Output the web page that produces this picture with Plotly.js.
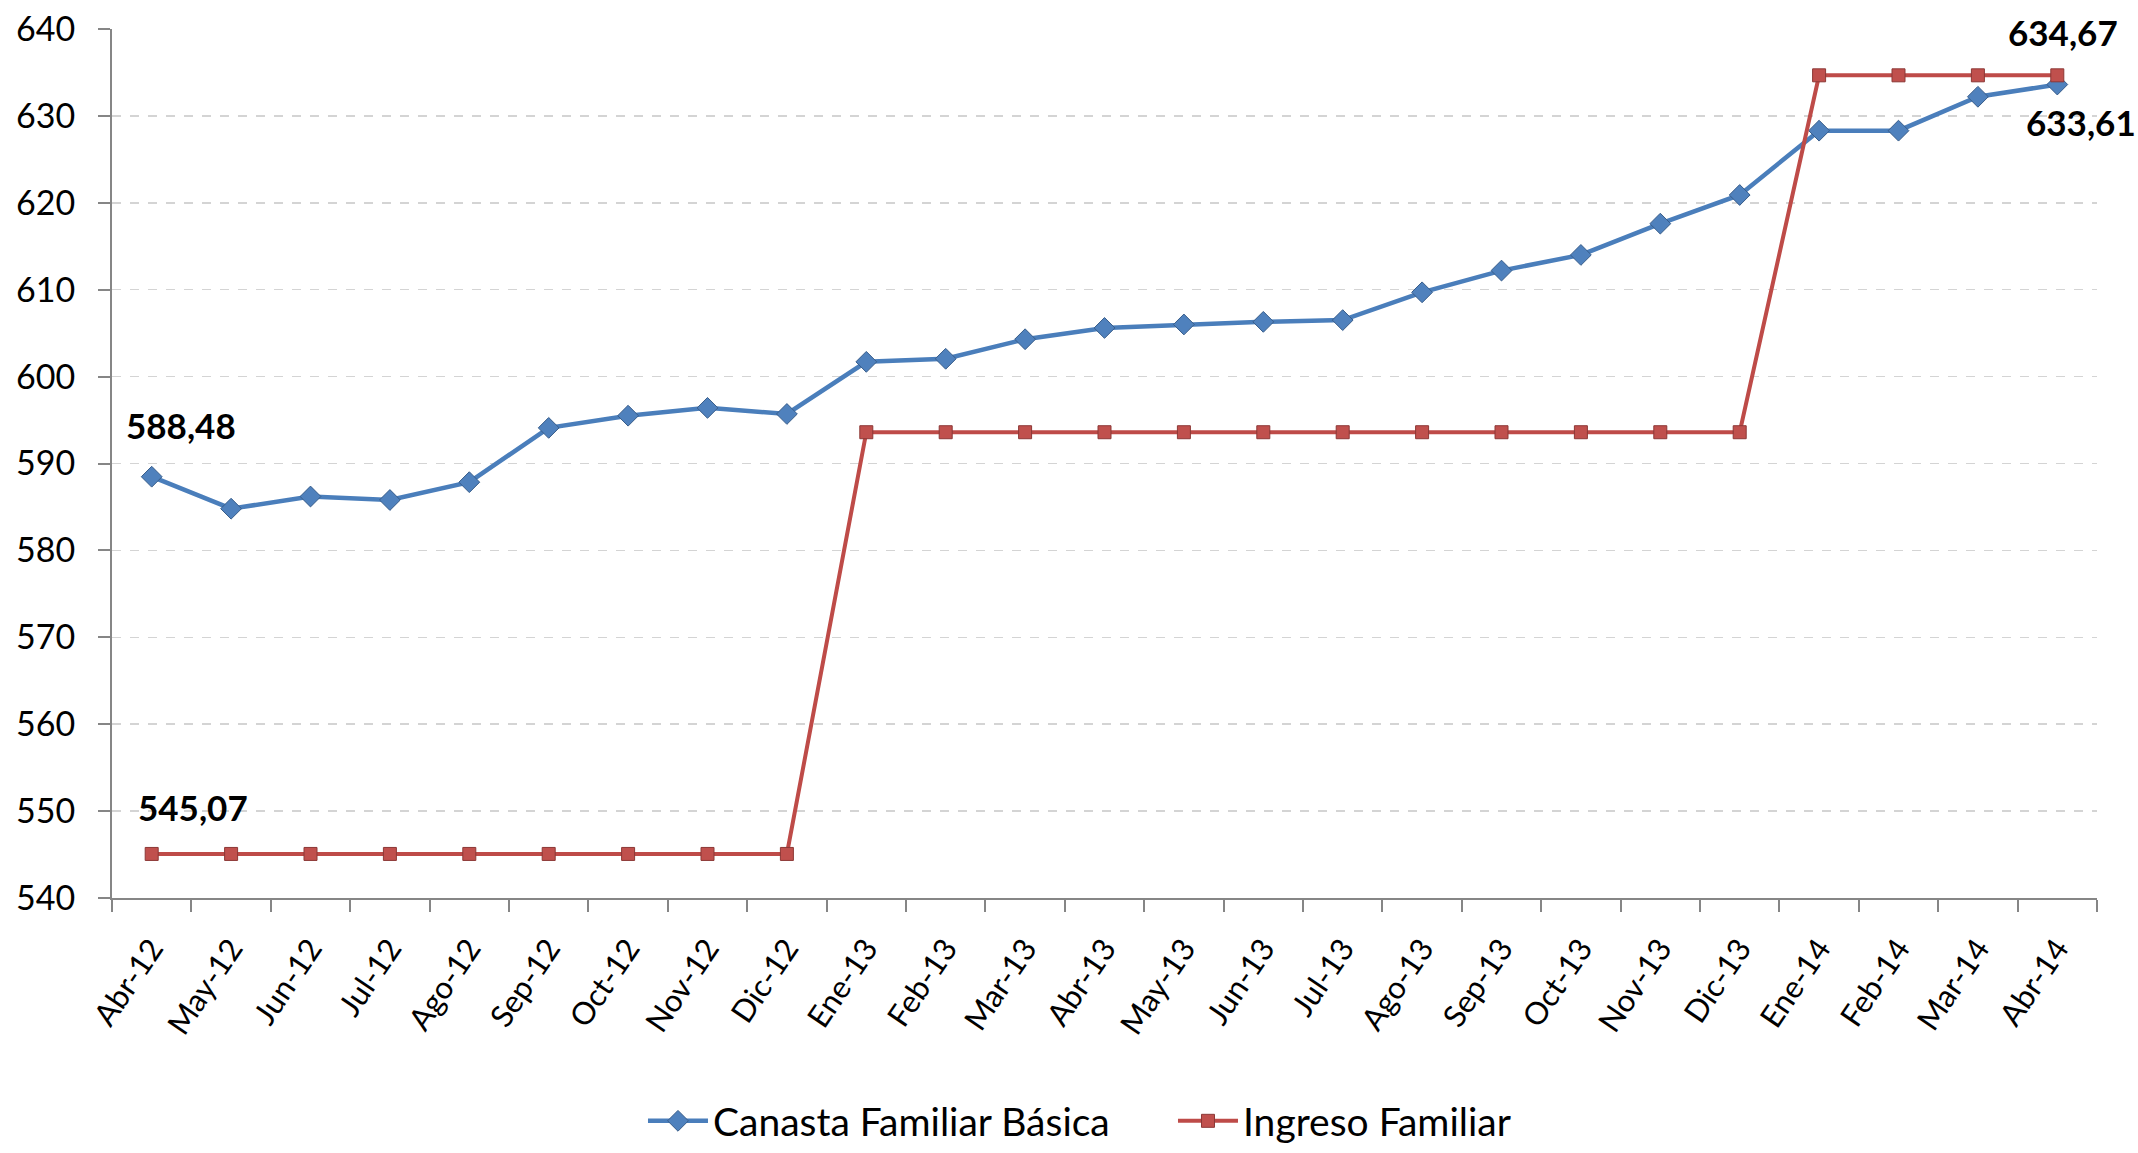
<!DOCTYPE html>
<html>
<head>
<meta charset="utf-8">
<script src="https://cdn.plot.ly/plotly-3.0.1.min.js"></script>
<style>html,body{margin:0;padding:0;background:#fff;}#chart{width:2138px;height:1153px;}</style>
</head>
<body>
<div id="chart"></div>
<script>
const months = ["Abr-12","May-12","Jun-12","Jul-12","Ago-12","Sep-12","Oct-12","Nov-12","Dic-12",
  "Ene-13","Feb-13","Mar-13","Abr-13","May-13","Jun-13","Jul-13","Ago-13","Sep-13","Oct-13","Nov-13","Dic-13",
  "Ene-14","Feb-14","Mar-14","Abr-14"];
const canasta = [588.48,584.8,586.2,585.8,587.85,594.1,595.5,596.4,595.7,
  601.7,602.05,604.3,605.6,606.0,606.3,606.5,609.7,612.2,614.0,617.6,620.9,
  628.3,628.3,632.2,633.61];
const ingreso = [545.07,545.07,545.07,545.07,545.07,545.07,545.07,545.07,545.07,
  593.6,593.6,593.6,593.6,593.6,593.6,593.6,593.6,593.6,593.6,593.6,593.6,
  634.67,634.67,634.67,634.67];
const yTicks = [540,550,560,570,580,590,600,610,620,630,640];

const fmt = v => v.toFixed(2).replace('.', ',');
const FONT = 'Lato, "Open Sans", sans-serif';
const last = months.length - 1;

const traces = [
  {
    x: months, y: canasta, type: 'scatter', mode: 'lines+markers',
    name: 'Canasta Familiar Básica',
    line: {color: '#4A7EBB', width: 4.5},
    marker: {symbol: 'diamond', size: 16, color: '#4F81BD', line: {color: '#385D8A', width: 1}}
  },
  {
    x: months, y: ingreso, type: 'scatter', mode: 'lines+markers',
    name: 'Ingreso Familiar',
    line: {color: '#BE4B48', width: 4},
    marker: {symbol: 'square', size: 13, color: '#C0504D', line: {color: '#8C3836', width: 1}}
  }
];

const labelFont = {family: FONT, size: 35, color: '#000', weight: 'bold'};
const annotations = [
  {x: months[0], y: canasta[0], text: '<b>' + fmt(canasta[0]) + '</b>', xshift: 29, yshift: 52},
  {x: months[0], y: ingreso[0], text: '<b>' + fmt(ingreso[0]) + '</b>', xshift: 41, yshift: 47},
  {x: months[last], y: ingreso[last], text: '<b>' + fmt(ingreso[last]) + '</b>', xshift: 6, yshift: 43},
  {x: months[last], y: canasta[last], text: '<b>' + fmt(canasta[last]) + '</b>', xshift: 24, yshift: -37}
].map(a => Object.assign({xref: 'x', yref: 'y', showarrow: false, font: labelFont}, a));

const layout = {
  width: 2138, height: 1153,
  margin: {l: 112, r: 41, t: 29, b: 255, autoexpand: false},
  paper_bgcolor: '#fff', plot_bgcolor: '#fff',
  font: {family: FONT, size: 33, color: '#000'},
  showlegend: true,
  legend: {orientation: 'h', x: 0.2675, xanchor: 'left', y: -0.2934, yanchor: 'bottom',
    font: {family: FONT, size: 39, color: '#000'},
    itemwidth: 60,
    entrywidth: 455, entrywidthmode: 'pixels', tracegroupgap: 0},
  xaxis: {
    type: 'category', categoryorder: 'array', categoryarray: months,
    range: [-0.5, months.length - 0.5], automargin: false,
    showline: true, linecolor: '#868686', linewidth: 2,
    ticks: 'outside', tickson: 'boundaries', ticklen: 12, tickcolor: '#868686', tickwidth: 2,
    ticklabelstandoff: 18,
    tickangle: -56, tickfont: {family: FONT, size: 31, color: '#000'},
    showgrid: false, zeroline: false
  },
  yaxis: {
    range: [540, 640], tickmode: 'array', tickvals: yTicks, ticktext: yTicks.map(String),
    automargin: false,
    showline: true, linecolor: '#868686', linewidth: 2,
    ticks: 'outside', ticklen: 12, tickcolor: '#868686', tickwidth: 2,
    ticklabelstandoff: 16,
    tickfont: {family: FONT, size: 34, color: '#000'},
    showgrid: true, gridcolor: '#D4D4D4', gridwidth: 1.5, griddash: 'dash',
    zeroline: false
  },
  annotations: annotations
};

Plotly.newPlot('chart', traces, layout, {displayModeBar: false, staticPlot: true});
</script>
</body>
</html>
